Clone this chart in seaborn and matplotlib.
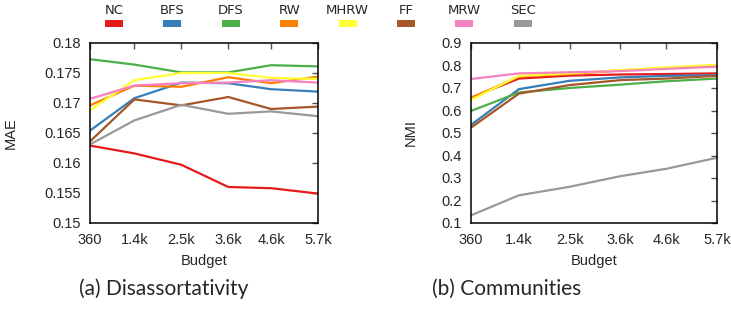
import numpy as np
import pandas as pd
import matplotlib
matplotlib.use("Agg")
import matplotlib.pyplot as plt
import seaborn as sns
from matplotlib.patches import Rectangle

# données
budget = [360, 1400, 2500, 3600, 4600, 5700]
budget_labels = ['360', '1.4k', '2.5k', '3.6k', '4.6k', '5.7k']
methods = ['NC', 'BFS', 'DFS', 'RW', 'MHRW', 'FF', 'MRW', 'SEC']
colors = ['#e41a1c', '#377eb8', '#4daf4a', '#ff7f00', '#ffff33', '#a65628', '#f781bf', '#999999']

mae_nc = [0.1629, 0.1616, 0.1597, 0.1560, 0.1558, 0.1549]
mae_bfs = [0.1654, 0.1708, 0.1734, 0.1733, 0.1723, 0.1719]
mae_dfs = [0.1773, 0.1764, 0.1751, 0.1751, 0.1763, 0.1761]
mae_rw = [0.1696, 0.1729, 0.1727, 0.1743, 0.1733, 0.1744]
mae_mhrw = [0.1688, 0.1738, 0.1750, 0.1750, 0.1742, 0.1740]
mae_ff = [0.1636, 0.1706, 0.1696, 0.1710, 0.1690, 0.1694]
mae_mrw = [0.1707, 0.1729, 0.1733, 0.1734, 0.1738, 0.1734]
mae_sec = [0.1631, 0.1671, 0.1697, 0.1682, 0.1686, 0.1678]

nmi_nc = [0.657, 0.742, 0.755, 0.760, 0.762, 0.765]
nmi_bfs = [0.536, 0.695, 0.732, 0.747, 0.754, 0.757]
nmi_dfs = [0.598, 0.680, 0.700, 0.715, 0.730, 0.742]
nmi_rw = [0.655, 0.751, 0.762, 0.778, 0.790, 0.800]
nmi_mhrw = [0.647, 0.754, 0.765, 0.780, 0.792, 0.803]
nmi_ff = [0.524, 0.675, 0.713, 0.735, 0.742, 0.754]
nmi_mrw = [0.740, 0.765, 0.770, 0.775, 0.785, 0.795]
nmi_sec = [0.134, 0.223, 0.261, 0.308, 0.341, 0.390]

mae = [mae_nc, mae_bfs, mae_dfs, mae_rw, mae_mhrw, mae_ff, mae_mrw, mae_sec]
nmi = [nmi_nc, nmi_bfs, nmi_dfs, nmi_rw, nmi_mhrw, nmi_ff, nmi_mrw, nmi_sec]

rows = []
for m, a, b in zip(methods, mae, nmi):
    for x, va, vb in zip(budget, a, b):
        rows.append({'Budget': x, 'Method': m, 'MAE': va, 'NMI': vb})
df = pd.DataFrame(rows)

sns.set_style("white")
plt.rcParams['font.family'] = ['Liberation Sans', 'DejaVu Sans']
palette = dict(zip(methods, colors))

fig = plt.figure(figsize=(7.31, 3.21), dpi=100)
ax1 = fig.add_axes([90 / 731, 1 - 223 / 321, 228 / 731, 180 / 321])
ax2 = fig.add_axes([471 / 731, 1 - 223 / 321, 246 / 731, 180 / 321])

panels = [
    (ax1, 'MAE', (0.15, 0.18), np.arange(0.15, 0.1801, 0.005),
     ['0.15', '0.155', '0.16', '0.165', '0.17', '0.175', '0.18'], (18 - 90) / 228),
    (ax2, 'NMI', (0.1, 0.9), np.arange(0.1, 0.901, 0.1),
     ['0.1', '0.2', '0.3', '0.4', '0.5', '0.6', '0.7', '0.8', '0.9'], (418 - 471) / 246),
]
for ax, col, ylim, yt, ylab, lx in panels:
    sns.lineplot(data=df, x='Budget', y=col, hue='Method', palette=palette,
                 hue_order=methods, linewidth=1.6, legend=False, ax=ax)
    ax.set_xlim(budget[0], budget[-1])
    ax.set_ylim(*ylim)
    ax.set_xticks(budget)
    ax.set_xticklabels(budget_labels)
    ax.set_yticks(yt)
    ax.set_yticklabels(ylab)
    ax.set_xlabel('Budget', fontsize=10.5)
    ax.set_ylabel(col, fontsize=10.5)
    ax.yaxis.set_label_coords(lx, 0.5)
    ax.xaxis.set_label_coords(0.5, -(254 - 223) / 180)
    ax.tick_params(direction='in', length=4, width=1, color='#555555',
                   top=True, right=True, labelsize=10.5)
    ax.tick_params(axis='x', pad=7)
    ax.tick_params(axis='y', pad=6.5)
    for s in ax.spines.values():
        s.set_color('black')
        s.set_linewidth(1.1)

# légende en haut
for i, (m, c) in enumerate(zip(methods, colors)):
    cx = (114 + i * 58.4) / 731
    fig.text(cx, 1 - 10 / 321, m, ha='center', va='center', fontsize=9.5,
             family=['DejaVu Sans'])
    fig.patches.append(Rectangle((cx - 9 / 731, 1 - 27 / 321), 18 / 731, 7 / 321,
                                 transform=fig.transFigure, facecolor=c,
                                 edgecolor='none'))

fig.text(164 / 731, 1 - 289 / 321, '(a) Disassortativity', ha='center', va='center',
         fontsize=15, family=['Lato', 'DejaVu Sans'])
fig.text(507 / 731, 1 - 289 / 321, '(b) Communities', ha='center', va='center',
         fontsize=15, family=['Lato', 'DejaVu Sans'])

fig.savefig('out.png', dpi=100)
